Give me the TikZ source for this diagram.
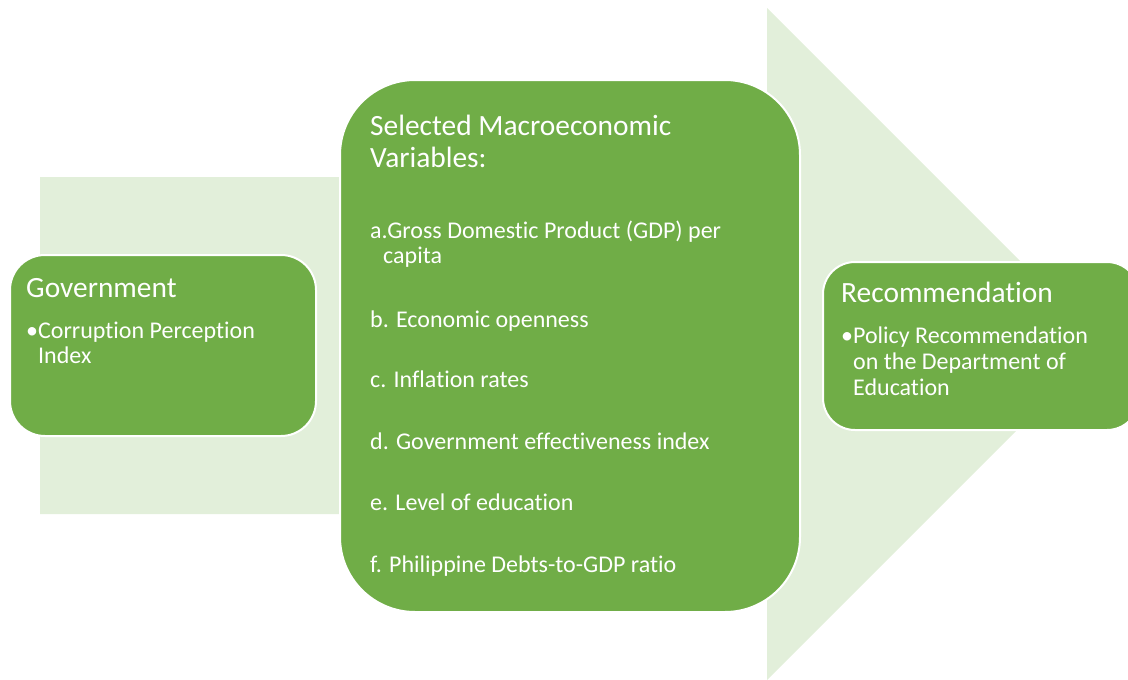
\documentclass[tikz,border=0pt]{standalone}
\usepackage{fontspec}
\setmainfont{Carlito}[Ligatures=NoCommon]
\definecolor{leaf}{HTML}{70AD47}
\definecolor{mist}{HTML}{E2EFDA}
\tikzset{
  card/.style={fill=leaf, draw=white, line width=2pt},
  head/.style={anchor=base west, inner sep=0pt, text=white, font=\fontsize{29.4}{32}\selectfont},
  item/.style={anchor=base west, inner sep=0pt, text=white, font=\fontsize{24}{26}\selectfont},
}
\begin{document}
\begin{tikzpicture}[x=1pt,y=-1pt]
\useasboundingbox (0,0) rectangle (1128,680);
% wide block arrow behind the three stages
\fill[mist] (40,177) -- (767,177) -- (767,8) -- (1103,344) -- (767,680)
  -- (767,514) -- (40,514) -- cycle;

% stage cards
\node[card, rounded corners=35pt, minimum width=306pt, minimum height=181pt] (gov) at (163,345.5) {};
\node[card, rounded corners=75pt, minimum width=460pt, minimum height=532pt] (macro) at (570,346) {};
\node[card, rounded corners=32pt, minimum width=316pt, minimum height=168pt] (rec) at (981,346) {};

% Government
\node[head] (govh) at (26,297) {Government};
\node[item] (gov1) at (26,338) {•Corruption Perception};
\node[item] (gov2) at (38,363) {Index};

% Selected macroeconomic variables
\node[head] (mach1) at (370,135) {Selected Macroeconomic};
\node[head] (mach2) at (370,167) {Variables:};
\node[item] (maca) at (370,238) {a.Gross Domestic Product (GDP) per};
\node[item] (maca2) at (383,263) {capita};
\node[item] (macb) at (370,327) {b. Economic openness};
\node[item] (macc) at (370,387) {c. Inflation rates};
\node[item] (macd) at (370,449) {d. Government effectiveness index};
\node[item] (mace) at (370,510) {e. Level of education};
\node[item] (macf) at (370,572) {f. Philippine Debts-to-GDP ratio};

% Recommendation
\node[head] (rech) at (841,302) {Recommendation};
\node[item] (rec1) at (841,343) {•Policy Recommendation};
\node[item] (rec2) at (853,369) {on the Department of};
\node[item] (rec3) at (853,395) {Education};
\end{tikzpicture}
\end{document}
